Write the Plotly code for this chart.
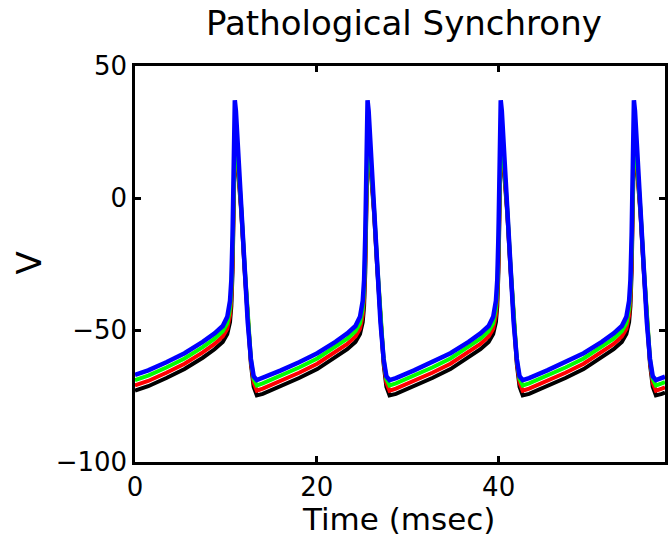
import plotly.graph_objects as go

# Time samples (msec) shared by all four traces
time_ms = [
    0.0, 1.45, 3.45, 5.45, 7.45, 8.75, 9.65, 10.15, 10.45, 10.6, 10.73, 10.85, 10.92, 10.98, 11.1, 11.35, 11.7, 12.05, 12.4, 12.75, 13.05, 13.4,
    14.05, 16.05, 18.05, 20.05, 22.05, 23.35, 24.25, 24.75, 25.05, 25.2, 25.33, 25.45, 25.52, 25.58, 25.7, 25.95, 26.3, 26.65, 27.0, 27.35, 27.65, 28.0,
    28.7, 30.7, 32.7, 34.7, 36.7, 38.0, 38.9, 39.4, 39.7, 39.85, 39.98, 40.1, 40.17, 40.23, 40.35, 40.6, 40.95, 41.3, 41.65, 42.0, 42.3, 42.65,
    43.35, 45.35, 47.35, 49.35, 51.35, 52.65, 53.55, 54.05, 54.35, 54.5, 54.63, 54.75, 54.82, 54.88, 55.0, 55.25, 55.6, 55.95, 56.3, 56.65, 56.95, 57.3,
    57.95, 58.3,
]

v_blue = [
    -67, -65.3, -62.2, -58.8, -54.5, -51.3, -48.5, -45, -39, -31, -14, 12, 33, 37, 33, 17, -8, -28, -47, -61, -67.5, -69,
    -68.2, -65.3, -62.2, -58.8, -54.5, -51.3, -48.5, -45, -39, -31, -14, 12, 33, 37, 33, 17, -8, -28, -47, -61, -67.5, -69,
    -68.2, -65.3, -62.2, -58.8, -54.5, -51.3, -48.5, -45, -39, -31, -14, 12, 33, 37, 33, 17, -8, -28, -47, -61, -67.5, -69,
    -68.2, -65.3, -62.2, -58.8, -54.5, -51.3, -48.5, -45, -39, -31, -14, 12, 33, 37, 33, 17, -8, -28, -47, -61, -67.5, -69,
    -68.2, -67.7,
]

v_green = [
    -69, -67.3, -64.2, -60.8, -56.5, -53.3, -50.5, -47.5, -42, -35, -20, 3, 17, 23, 24.5, 14, -4, -25, -45, -61, -68.5, -71,
    -70.2, -67.3, -64.2, -60.8, -56.5, -53.3, -50.5, -47.5, -42, -35, -20, 3, 17, 23, 24.5, 14, -4, -25, -45, -61, -68.5, -71,
    -70.2, -67.3, -64.2, -60.8, -56.5, -53.3, -50.5, -47.5, -42, -35, -20, 3, 17, 23, 24.5, 14, -4, -25, -45, -61, -68.5, -71,
    -70.2, -67.3, -64.2, -60.8, -56.5, -53.3, -50.5, -47.5, -42, -35, -20, 3, 17, 23, 24.5, 14, -4, -25, -45, -61, -68.5, -71,
    -70.2, -69.7,
]

v_red = [
    -71, -69.3, -66.2, -62.8, -58.5, -55.3, -52.5, -49.5, -44.5, -38, -24, 0, 15, 21.5, 23, 12.5, -5, -26, -46, -62, -70, -73,
    -72.2, -69.3, -66.2, -62.8, -58.5, -55.3, -52.5, -49.5, -44.5, -38, -24, 0, 15, 21.5, 23, 12.5, -5, -26, -46, -62, -70, -73,
    -72.2, -69.3, -66.2, -62.8, -58.5, -55.3, -52.5, -49.5, -44.5, -38, -24, 0, 15, 21.5, 23, 12.5, -5, -26, -46, -62, -70, -73,
    -72.2, -69.3, -66.2, -62.8, -58.5, -55.3, -52.5, -49.5, -44.5, -38, -24, 0, 15, 21.5, 23, 12.5, -5, -26, -46, -62, -70, -73,
    -72.2, -71.7,
]

v_black = [
    -73, -71.3, -68.2, -64.8, -60.5, -57.3, -54.5, -51.5, -47, -41, -28, -3, 13, 20, 21.5, 11, -6, -27, -47, -63, -71.5, -74.8,
    -74.2, -71.3, -68.2, -64.8, -60.5, -57.3, -54.5, -51.5, -47, -41, -28, -3, 13, 20, 21.5, 11, -6, -27, -47, -63, -71.5, -74.8,
    -74.2, -71.3, -68.2, -64.8, -60.5, -57.3, -54.5, -51.5, -47, -41, -28, -3, 13, 20, 21.5, 11, -6, -27, -47, -63, -71.5, -74.8,
    -74.2, -71.3, -68.2, -64.8, -60.5, -57.3, -54.5, -51.5, -47, -41, -28, -3, 13, 20, 21.5, 11, -6, -27, -47, -63, -71.5, -74.8,
    -74.2, -73.7,
]

x_ticks = [0, 20, 40]
y_ticks = [-100, -50, 0, 50]
x_range = [0, 58.3]
y_range = [-100, 50]

FONT = "DejaVu Sans"

fig = go.Figure()
for name, vals, col, w in [
    ("black", v_black, "#000000", 4),
    ("red", v_red, "#ff0000", 4),
    ("green", v_green, "#00ff00", 4),
    ("blue", v_blue, "#0000ff", 4.5),
]:
    fig.add_trace(go.Scatter(x=time_ms, y=vals, mode="lines", name=name,
                             line=dict(color=col, width=w), showlegend=False,
                             hoverinfo="skip"))

axis_common = dict(
    showline=True, linecolor="black", linewidth=2.5, mirror="ticks",
    ticks="inside", ticklen=6, tickwidth=2.5, tickcolor="black",
    showgrid=False, zeroline=False,
    tickfont=dict(family=FONT, size=26, color="black"),
)

fig.update_layout(
    width=671, height=539,
    margin=dict(l=135, r=3, t=66, b=77),
    paper_bgcolor="white", plot_bgcolor="white",
    title=dict(text="Pathological Synchrony", x=0.602, xanchor="center",
               y=1 - 23 / 539, yanchor="middle", yref="container",
               font=dict(family=FONT, size=34, color="black")),
    xaxis=dict(range=x_range, tickvals=x_ticks, ticktext=[str(v) for v in x_ticks],
               **axis_common),
    yaxis=dict(range=y_range, tickvals=y_ticks,
               ticktext=[str(v).replace("-", "\u2212") for v in y_ticks],
               **axis_common),
    annotations=[
        dict(text="Time (msec)", xref="paper", yref="paper",
             x=(400 - 135) / 533, y=-(519 - 462) / 396,
             xanchor="center", yanchor="middle", showarrow=False,
             font=dict(family=FONT, size=31, color="black")),
        dict(text="V", xref="paper", yref="paper",
             x=-(135 - 28) / 533, y=(462 - 263) / 396,
             xanchor="center", yanchor="middle", showarrow=False, textangle=-90,
             font=dict(family=FONT, size=34, color="black")),
    ],
)

fig.write_html("out.html")
